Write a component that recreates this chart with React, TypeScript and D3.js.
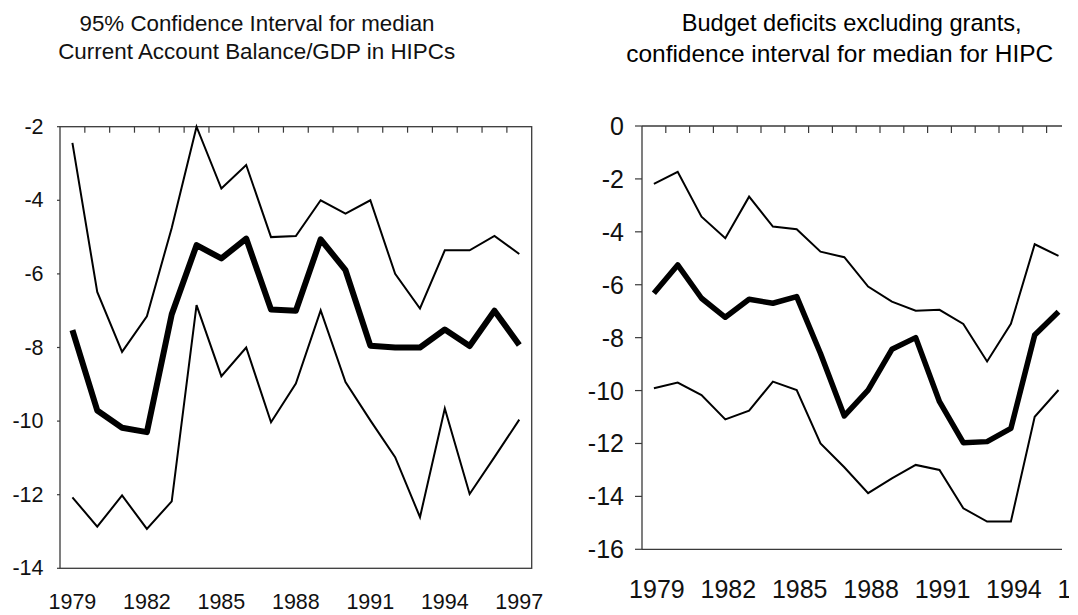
import React from "react";
import * as d3 from "d3";

// ---------- data ----------
const caYears = ["1979","1980","1981","1982","1983","1984","1985","1986","1987","1988","1989","1990","1991","1992","1993","1994","1995","1996","1997"];
const caUpper = [-2.44,-6.49,-8.12,-7.15,-4.75,-2.0,-3.68,-3.04,-5.0,-4.97,-4.0,-4.36,-4.0,-6.0,-6.94,-5.36,-5.36,-4.97,-5.46];
const caMedian = [-7.53,-9.71,-10.18,-10.3,-7.1,-5.22,-5.58,-5.04,-6.97,-7.0,-5.06,-5.9,-7.95,-8.0,-8.0,-7.51,-7.96,-7.0,-7.93];
const caLower = [-12.07,-12.87,-12.02,-12.93,-12.18,-6.85,-8.78,-8.0,-10.03,-8.98,-6.99,-8.94,-9.98,-10.98,-12.61,-9.66,-11.98,-10.98,-9.96];
const caYTicks = [-2,-4,-6,-8,-10,-12,-14];
const caXLabels = ["1979","1982","1985","1988","1991","1994","1997"];
const caTitle = ["95% Confidence Interval for median", "Current Account Balance/GDP in HIPCs"];

const bdYears = ["1979","1980","1981","1982","1983","1984","1985","1986","1987","1988","1989","1990","1991","1992","1993","1994","1995","1996","1997"];
const bdDataYears = ["1979","1980","1981","1982","1983","1984","1985","1986","1987","1988","1989","1990","1991","1992","1993","1994","1995","1996"];
const bdUpper = [-2.19,-1.73,-3.43,-4.24,-2.67,-3.8,-3.9,-4.75,-4.96,-6.07,-6.64,-6.98,-6.95,-7.48,-8.9,-7.48,-4.47,-4.91];
const bdMedian = [-6.32,-5.25,-6.51,-7.23,-6.55,-6.7,-6.45,-8.6,-10.96,-9.98,-8.44,-8.0,-10.42,-11.97,-11.93,-11.43,-7.9,-7.02];
const bdLower = [-9.91,-9.7,-10.17,-11.09,-10.76,-9.66,-9.98,-12.0,-12.9,-13.88,-13.32,-12.81,-13.0,-14.45,-14.95,-14.95,-10.99,-9.98];
const bdYTicks = [0,-2,-4,-6,-8,-10,-12,-14,-16];
const bdXLabels = ["1979","1982","1985","1988","1991","1994","1997"];
const bdTitle = ["Budget deficits excluding grants,", "confidence interval for median for HIPC"];

const FONT = "'Liberation Sans', Arial, sans-serif";
const FRAME = "#3a3a3a";

export default function App() {
  // ----- left chart -----
  const L = { x0: 60, x1: 531.7, y0: 126.7, y1: 568.3 };
  const lx = d3.scaleBand<string>().domain(caYears).range([L.x0, L.x1]).padding(0);
  const ly = d3.scaleLinear().domain([-2, -14]).range([L.y0, L.y1]);
  const lLine = d3.line<number>()
    .x((_, i) => (lx(caYears[i]) as number) + lx.bandwidth() / 2)
    .y((d) => ly(d));

  // ----- right chart -----
  const R = { x0: 642, y0: 126, y1: 549.3 };
  const bw = 23.8;
  const rx = d3.scaleBand<string>().domain(bdYears).range([R.x0, R.x0 + bw * bdYears.length]).padding(0);
  const ry = d3.scaleLinear().domain([0, -16]).range([R.y0, R.y1]);
  const rLine = d3.line<number>()
    .x((_, i) => (rx(bdDataYears[i]) as number) + rx.bandwidth() / 2)
    .y((d) => ry(d));

  const caTitleX = [257, 256.7];
  const caTitleW = [355, 397];
  const bdTitleX = [851.7, 839.7];
  const bdTitleW = [340, 427];

  return (
    <svg width={1078} height={615} style={{ position: "absolute", left: 0, top: 0, background: "#fff" }}>
      <defs>
        <clipPath id="rclip">
          <rect x={0} y={0} width={1062} height={615} />
        </clipPath>
        <clipPath id="lblclip">
          <rect x={0} y={0} width={1069} height={615} />
        </clipPath>
      </defs>

      {/* ===== LEFT CHART ===== */}
      <g fontFamily={FONT} fill="#111">
        {caTitle.map((t, i) => (
          <text key={i} x={caTitleX[i]} y={23 + i * 28.7} fontSize={22.4} textAnchor="middle" dominantBaseline="central"
            textLength={caTitleW[i]} lengthAdjust="spacingAndGlyphs">{t}</text>
        ))}
      </g>
      <rect x={L.x0} y={L.y0} width={L.x1 - L.x0} height={L.y1 - L.y0} fill="none" stroke={FRAME} strokeWidth={1.3} />
      {caYears.slice(1).map((yr) => (
        <line key={yr} x1={lx(yr)} x2={lx(yr)} y1={L.y0} y2={L.y0 + 6} stroke={FRAME} strokeWidth={1.2} />
      ))}
      {caYTicks.map((v) => (
        <g key={v}>
          <line x1={L.x0 - 3} x2={L.x0} y1={ly(v)} y2={ly(v)} stroke={FRAME} strokeWidth={1.2} />
          <text x={43.5} y={ly(v)} fontSize={21.5} fontFamily={FONT} textAnchor="end" dominantBaseline="central" fill="#111">{v}</text>
        </g>
      ))}
      {caXLabels.map((yr) => (
        <text key={yr} x={(lx(yr) as number) + lx.bandwidth() / 2} y={602} fontSize={21.5} fontFamily={FONT} textAnchor="middle" dominantBaseline="central" fill="#111">{yr}</text>
      ))}
      <path d={lLine(caUpper) || ""} fill="none" stroke="#000" strokeWidth={2} strokeLinejoin="miter" />
      <path d={lLine(caLower) || ""} fill="none" stroke="#000" strokeWidth={2} strokeLinejoin="miter" />
      <path d={lLine(caMedian) || ""} fill="none" stroke="#000" strokeWidth={6} strokeLinejoin="round" />

      {/* ===== RIGHT CHART ===== */}
      <g fontFamily={FONT} fill="#000">
        {bdTitle.map((t, i) => (
          <text key={i} x={bdTitleX[i]} y={22 + i * 31.5} fontSize={24.5} textAnchor="middle" dominantBaseline="central"
            textLength={bdTitleW[i]} lengthAdjust="spacingAndGlyphs">{t}</text>
        ))}
      </g>
      <g clipPath="url(#rclip)">
        <line x1={R.x0} x2={rx.range()[1]} y1={R.y0} y2={R.y0} stroke={FRAME} strokeWidth={1.3} />
        <line x1={R.x0} x2={rx.range()[1]} y1={R.y1} y2={R.y1} stroke={FRAME} strokeWidth={1.3} />
        {bdYears.slice(1).map((yr) => (
          <line key={yr} x1={rx(yr)} x2={rx(yr)} y1={R.y0} y2={R.y0 + 7} stroke={FRAME} strokeWidth={1.2} />
        ))}
        <path d={rLine(bdUpper) || ""} fill="none" stroke="#000" strokeWidth={2} />
        <path d={rLine(bdLower) || ""} fill="none" stroke="#000" strokeWidth={2} />
        <path d={rLine(bdMedian) || ""} fill="none" stroke="#000" strokeWidth={5.5} strokeLinejoin="round" />
      </g>
      <line x1={R.x0} x2={R.x0} y1={R.y0} y2={R.y1} stroke={FRAME} strokeWidth={1.3} />
      {bdYTicks.map((v) => (
        <g key={v}>
          <line x1={R.x0 - 7} x2={R.x0} y1={ry(v)} y2={ry(v)} stroke={FRAME} strokeWidth={1.2} />
          <text x={624} y={ry(v)} fontSize={25} fontFamily={FONT} textAnchor="end" dominantBaseline="central" fill="#111">{v}</text>
        </g>
      ))}
      <g clipPath="url(#lblclip)">
        {bdXLabels.map((yr) => (
          <text key={yr} x={(rx(yr) as number) + rx.bandwidth() / 2 + 3} y={589} fontSize={25} fontFamily={FONT} textAnchor="middle" dominantBaseline="central" fill="#111">{yr}</text>
        ))}
      </g>
    </svg>
  );
}
